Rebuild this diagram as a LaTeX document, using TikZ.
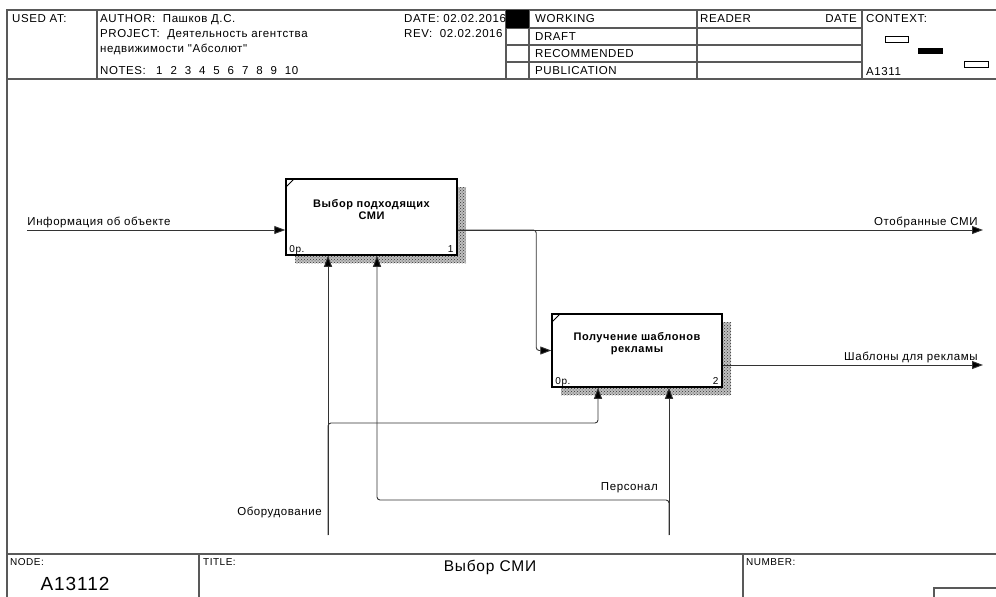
\documentclass[tikz,border=0pt]{standalone}
\usepackage{fontspec}
\newfontfamily\idef[LetterSpace=5]{Liberation Sans}
\usetikzlibrary{arrows.meta,patterns,calc}
\tikzset{
  every node/.style={
    font=\idef\fontsize{11.5}{13}\selectfont,
    inner sep=0pt
  },
  frame/.style={
    draw=black!65,
    line width=1.1pt
  },
  hdr/.style={
    anchor=base west
  },
  small/.style={
    font=\idef\fontsize{10}{11}\selectfont,
    text depth=0pt
  },
  func/.style={
    draw,
    line width=1.5pt,
    fill=white,
    minimum width=171pt,
    minimum height=76pt,
    align=center,
    text depth=16pt,
    font=\idef\bfseries\fontsize{11}{12}\selectfont,
    preaction={fill=gray!50, transform canvas={xshift=9pt,yshift=-8pt}},
    preaction={pattern=crosshatch dots, pattern color=black!80,
      transform canvas={xshift=9pt,yshift=-8pt}},
    path picture={
      \draw[line width=1pt] ([yshift=-8pt]path picture bounding box.north west)
        -- ([xshift=8pt]path picture bounding box.north west);
    },
    label={[small, anchor=south west, xshift=4pt, yshift=3pt]south west:0р.},
    label={[small, anchor=south east, xshift=-4pt, yshift=3pt]south east:#1}
  },
  arr/.style={
    draw=black!80,
    line width=0.9pt,
    -{Triangle[length=11pt,width=8pt,fill=black]}
  }
}

\begin{document}
\begin{tikzpicture}[x=1pt,y=-1pt]
  \useasboundingbox (0,0) rectangle (996,597);

  % form frame
  \draw[frame] (996,10) -- (7,10) -- (7,597);
  \draw[frame] (7,79) -- (996,79);
  \draw[frame] (7,554) -- (996,554);
  \foreach \x in {97,506,529,697,862}
    \draw[frame] (\x,10) -- (\x,79);
  \foreach \y in {28,45,62}
    \draw[frame] (506,\y) -- (862,\y);
  \fill[black] (506,10) rectangle (529,28);
  \foreach \x in {199,743}
    \draw[frame] (\x,554) -- (\x,597);
  \draw[frame] (934,597) |- (996,588);

  % header
  \node[hdr] (usedat) at (12,23) {USED AT:};
  \node[hdr] (author) at (100,23) {AUTHOR:\ \ Пашков Д.С.};
  \node[hdr] (project) at (100,37) {PROJECT:\ \ Деятельность агентства};
  \node[hdr] (project2) at (100,52) {недвижимости "Абсолют"};
  \node[hdr] (notes) at (100,74) {NOTES:};
  \foreach \n in {1,...,10}
    \node[hdr] (note\n) at (156+14.3*\n-14.3,74) {\n};
  \node[hdr] (date) at (404,23) {DATE: 02.02.2016};
  \node[hdr] (rev) at (404,37) {REV:\ \ 02.02.2016};
  \node[hdr] (working) at (535,23) {WORKING};
  \node[hdr] (draft) at (535,40) {DRAFT};
  \node[hdr] (recommended) at (535,57) {RECOMMENDED};
  \node[hdr] (publication) at (535,74) {PUBLICATION};
  \node[hdr] (reader) at (700,23) {READER};
  \node[anchor=base east] (rdate) at (857,23) {DATE};
  \node[hdr] (context) at (866,23) {CONTEXT:};
  \node[hdr] (ctxnode) at (866,75) {A1311};
  \draw[line width=0.8pt] (885,36) rectangle (908,42);
  \fill (918,48) rectangle (943,54);
  \draw[line width=0.8pt] (964,61) rectangle (988,67);

  % footer
  \node[hdr, small] (nodelbl) at (10,565) {NODE:};
  \node[hdr, small] (titlelbl) at (203,565) {TITLE:};
  \node[hdr, small] (numberlbl) at (746,565) {NUMBER:};
  \node[font=\idef\fontsize{19}{22}\selectfont] (nodeno) at (75,584) {A13112};
  \node[font=\idef\fontsize{15.5}{18}\selectfont] (title) at (490,567) {Выбор СМИ};

  % activities
  \node[func=1] (b1) at (371.5,217) {Выбор подходящих\\СМИ};
  \node[func=2, minimum width=170pt, minimum height=73pt] (b2) at (637,350.5)
    {Получение шаблонов\\рекламы};

  % arrow ends
  \coordinate (info) at (27,230);
  \coordinate (media) at (983,230);
  \coordinate (tmpl) at (983,365);
  \coordinate (equip) at (328,535);
  \coordinate (staff) at (669,535);
  \coordinate (j1) at ($(b2.west)+(-15,0)$);
  \coordinate (e1) at (598,423);
  \coordinate (p1) at (377,500);

  % inputs and outputs
  \draw[arr] (info) -- (info -| b1.west)
    node[pos=0, anchor=south west, yshift=2pt] (infolbl) {Информация об объекте};
  \draw[arr] (media -| b1.east) -- (media)
    node[pos=1, anchor=south east, xshift=-5pt, yshift=2pt] (medialbl) {Отобранные СМИ};
  \draw[arr, rounded corners=3pt] (media -| b1.east) -| (j1) -- (b2.west);
  \draw[arr] (tmpl -| b2.east) -- (tmpl)
    node[pos=1, anchor=south east, xshift=-5pt, yshift=2pt] (tmpllbl) {Шаблоны для рекламы};

  % mechanisms
  \draw[arr] (equip) -- (equip |- b1.south);
  \draw[arr, rounded corners=3pt] (equip) |- (e1) -- (e1 |- b2.south);
  \node[anchor=east] (equiplbl) at (322,512) {Оборудование};
  \draw[arr] (staff) -- (staff |- b2.south);
  \draw[arr, rounded corners=3pt] (staff) |- (p1) -- (p1 |- b1.south);
  \node[anchor=east] (stafflbl) at (658,488) {Персонал};
\end{tikzpicture}
\end{document}
